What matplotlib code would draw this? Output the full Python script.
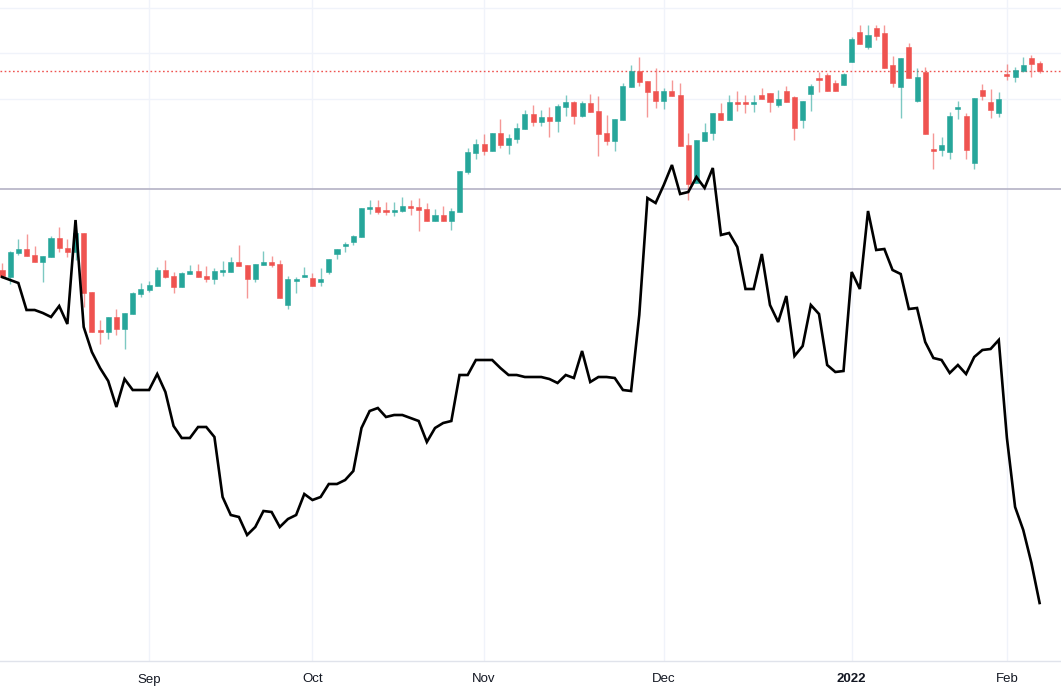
import matplotlib
matplotlib.use("Agg")
import matplotlib.pyplot as plt
import numpy as np

# ---- data (arbitrary price units) ----
opens = [43.0, 42.3, 44.7, 45.1, 44.5, 43.8, 44.3, 46.2, 45.2, 44.8,
         46.7, 40.8, 36.9, 36.8, 38.3, 37.1, 38.6, 40.6, 41.0, 41.4,
         43.0, 42.4, 41.3, 42.6, 42.9, 42.4, 42.1, 42.8, 42.8, 43.8,
         43.5, 42.1, 43.5, 43.8, 43.6, 39.5, 41.9, 42.3, 42.2, 41.8,
         42.8, 44.6, 45.4, 45.8, 46.3, 49.1, 49.3, 48.9, 48.8, 48.9,
         49.4, 49.3, 49.1, 47.9, 48.5, 47.9, 48.8, 52.8, 54.7, 55.6,
         54.9, 56.7, 55.5, 56.1, 57.1, 58.6, 57.8, 58.3, 57.9, 59.3,
         59.8, 58.4, 59.7, 58.9, 56.7, 55.9, 58.0, 61.3, 62.9, 61.9,
         60.9, 59.9, 60.9, 60.5, 55.5, 51.7, 55.9, 56.7, 58.7, 58.0,
         59.8, 59.7, 59.6, 60.5, 60.7, 59.5, 60.9, 60.3, 58.0, 60.6,
         62.2, 62.5, 61.7, 61.5, 63.8, 66.8, 65.3, 67.2, 66.7, 63.5,
         61.3, 65.3, 59.9, 62.8, 55.1, 55.0, 54.8, 59.1, 58.4, 53.7,
         61.0, 59.8, 58.7, 62.6, 62.3, 62.9, 64.2, 63.7]
highs = [43.7, 44.9, 46.1, 46.6, 45.4, 44.4, 46.4, 47.3, 46.1, 47.0,
         46.7, 40.8, 38.0, 38.3, 39.1, 38.7, 40.8, 41.7, 41.9, 43.3,
         44.0, 42.8, 42.8, 43.5, 43.6, 43.4, 43.2, 43.9, 44.3, 45.5,
         43.5, 43.6, 44.9, 44.4, 44.0, 42.4, 42.3, 43.3, 42.7, 43.2,
         44.1, 45.1, 45.8, 46.5, 49.2, 50.0, 50.0, 49.8, 49.8, 50.3,
         50.0, 50.2, 49.7, 49.1, 49.4, 49.2, 52.9, 55.2, 56.1, 56.6,
         56.7, 58.1, 56.6, 57.7, 59.0, 59.5, 59.0, 59.3, 59.6, 60.5,
         59.9, 59.9, 60.6, 60.4, 58.5, 58.1, 61.7, 63.5, 64.3, 61.9,
         63.2, 61.2, 62.0, 61.7, 56.7, 56.0, 57.7, 58.7, 59.7, 60.5,
         60.9, 60.5, 60.5, 61.2, 60.7, 61.0, 61.4, 60.4, 59.9, 61.6,
         62.8, 62.7, 62.0, 62.7, 66.3, 67.5, 67.5, 67.5, 67.5, 64.4,
         64.2, 65.7, 63.2, 63.3, 56.7, 56.3, 58.8, 59.9, 58.7, 60.2,
         61.6, 61.1, 60.8, 63.6, 63.3, 64.3, 64.5, 63.9]
lows = [42.2, 41.6, 44.5, 44.4, 43.8, 41.8, 44.3, 44.8, 44.3, 44.0,
        39.3, 36.8, 35.6, 36.1, 36.5, 35.1, 38.6, 40.3, 40.8, 41.4,
        42.2, 40.7, 41.3, 42.6, 42.3, 41.8, 41.6, 42.4, 42.8, 43.4,
        40.2, 41.8, 43.5, 43.3, 40.2, 39.1, 40.7, 42.3, 41.4, 41.4,
        42.6, 44.1, 44.8, 45.5, 46.3, 48.6, 48.6, 48.5, 48.4, 48.8,
        48.5, 46.9, 47.9, 47.9, 47.9, 47.0, 48.8, 52.6, 54.1, 54.5,
        54.9, 55.2, 54.6, 55.7, 57.1, 57.4, 57.4, 56.3, 56.8, 58.4,
        57.6, 58.3, 58.8, 54.4, 55.5, 54.9, 58.0, 61.3, 61.4, 58.3,
        59.2, 59.1, 60.4, 55.4, 50.0, 51.7, 55.9, 56.0, 58.0, 58.0,
        58.9, 58.7, 58.8, 60.1, 58.8, 59.3, 59.8, 56.0, 57.2, 58.9,
        60.8, 60.9, 60.9, 61.5, 63.8, 65.6, 65.1, 66.0, 63.2, 61.3,
        58.2, 62.2, 59.8, 56.6, 53.1, 54.4, 54.1, 58.1, 54.1, 53.1,
        60.0, 58.2, 58.3, 62.0, 61.8, 62.8, 62.3, 62.7]
closes = [42.4, 44.8, 45.1, 44.4, 43.8, 44.4, 46.2, 45.2, 44.8, 46.7,
          40.7, 36.8, 36.8, 38.3, 37.1, 38.7, 40.7, 41.1, 41.5, 43.0,
          42.3, 41.3, 42.7, 42.9, 42.3, 42.1, 42.9, 42.9, 43.8, 43.4,
          42.1, 43.6, 43.8, 43.5, 40.2, 42.1, 42.1, 42.5, 41.4, 42.1,
          44.1, 45.1, 45.5, 46.4, 49.2, 49.3, 48.8, 48.8, 49.0, 49.4,
          49.2, 49.0, 47.9, 48.5, 47.9, 48.9, 52.9, 54.8, 55.6, 54.9,
          56.7, 55.5, 56.2, 57.2, 58.6, 57.8, 58.3, 57.9, 59.4, 59.8,
          58.4, 59.7, 58.8, 56.6, 55.9, 58.1, 61.4, 62.9, 61.8, 60.8,
          59.9, 60.9, 60.4, 55.4, 51.6, 56.0, 56.8, 58.7, 58.0, 59.8,
          59.6, 59.6, 59.8, 60.1, 59.8, 60.1, 59.8, 57.2, 59.9, 61.4,
          62.0, 60.9, 60.9, 62.6, 66.1, 65.6, 66.5, 66.4, 63.2, 61.7,
          64.2, 62.2, 62.3, 56.6, 54.9, 55.5, 58.4, 59.3, 55.0, 60.2,
          60.4, 59.0, 60.1, 62.4, 63.0, 63.5, 63.6, 62.9]
compare_line = [42.3, 42.0, 41.7, 39.0, 39.0, 38.7, 38.3, 39.4, 37.6, 48.0,
                37.3, 34.8, 33.2, 31.9, 29.3, 32.1, 31.0, 31.0, 31.0, 32.6,
                30.8, 27.4, 26.2, 26.2, 27.3, 27.3, 26.3, 20.3, 18.5, 18.3,
                16.5, 17.3, 18.9, 18.8, 17.3, 18.1, 18.5, 20.6, 20.0, 20.3,
                21.6, 21.6, 22.0, 22.9, 27.2, 28.9, 29.2, 28.3, 28.5, 28.5,
                28.2, 27.9, 25.8, 27.2, 27.7, 27.9, 32.5, 32.5, 34.0, 34.0,
                34.0, 33.2, 32.5, 32.5, 32.3, 32.3, 32.3, 32.1, 31.7, 32.5,
                32.2, 34.9, 31.8, 32.3, 32.3, 32.2, 31.0, 30.9, 38.5, 50.2,
                49.7, 51.5, 53.5, 50.6, 50.8, 52.3, 51.2, 53.2, 46.5, 46.7,
                45.3, 41.1, 41.1, 44.6, 39.5, 37.8, 40.4, 34.4, 35.4, 39.5,
                38.6, 33.5, 32.8, 32.9, 42.8, 41.1, 48.9, 45.0, 45.1, 43.0,
                42.6, 39.1, 39.2, 35.8, 34.2, 34.0, 32.7, 33.5, 32.6, 34.3,
                35.0, 35.1, 36.0, 26.2, 19.3, 17.0, 13.7, 9.7]
reference_level = 51.05
month_labels = ["Sep", "Oct", "Nov", "Dec", "2022", "Feb"]
month_start_idx = [18, 38, 59, 81, 104, 123]

# ---- figure ----
W, H = 1061, 692
fig = plt.figure(figsize=(W / 100, H / 100), dpi=100)
ax = fig.add_axes([0, (H - 661) / H, 1, 661 / H])

UP = "#26a69a"
DOWN = "#ef5350"

o = np.array(opens); h = np.array(highs); l = np.array(lows); c = np.array(closes)
x = np.arange(len(o))
up = c >= o
cols = np.where(up, UP, DOWN)

# grid
grid_levels = 64.67 + 4.55 * np.arange(-1, 14)
for g in grid_levels:
    ax.axhline(g, color="#f0f3fa", lw=1.0, zorder=0)
for m in month_start_idx:
    ax.axvline(m, color="#f0f3fa", lw=1.0, zorder=0)

# wicks
ax.vlines(x, l, h, colors=cols, lw=1.0, alpha=0.6, zorder=2)
# bodies
bottoms = np.minimum(o, c)
heights = np.maximum(np.abs(c - o), 0.18)
ax.bar(x, heights, bottom=bottoms, width=0.62, color=cols, edgecolor=cols,
       linewidth=0.4, zorder=3)

# reference and last-price lines
ax.axhline(reference_level, color="#b4b2c5", lw=1.2, zorder=1)
ax.axhline(closes[-1], color=DOWN, lw=1.0, linestyle=(0, (1.2, 1.8)), zorder=1)

# comparison line
ax.plot(x, compare_line, color="black", lw=1.9, zorder=4,
        solid_joinstyle="miter")

ax.set_xlim(-0.245, 129.62)
ax.set_ylim(3.9, 70.0)
ax.set_yticks([])
ax.set_xticks(month_start_idx)
ax.set_xticklabels(month_labels, fontsize=9.5, color="#131722",
                   family=["Liberation Sans", "DejaVu Sans"])
for lab in ax.get_xticklabels():
    if lab.get_text() == "2022":
        lab.set_fontweight("bold")
ax.tick_params(axis="x", length=0, pad=9)
for s in ["top", "left", "right"]:
    ax.spines[s].set_visible(False)
ax.spines["bottom"].set_color("#e0e3eb")
ax.spines["bottom"].set_linewidth(1.0)

fig.savefig("out.png", dpi=100, facecolor="white")
